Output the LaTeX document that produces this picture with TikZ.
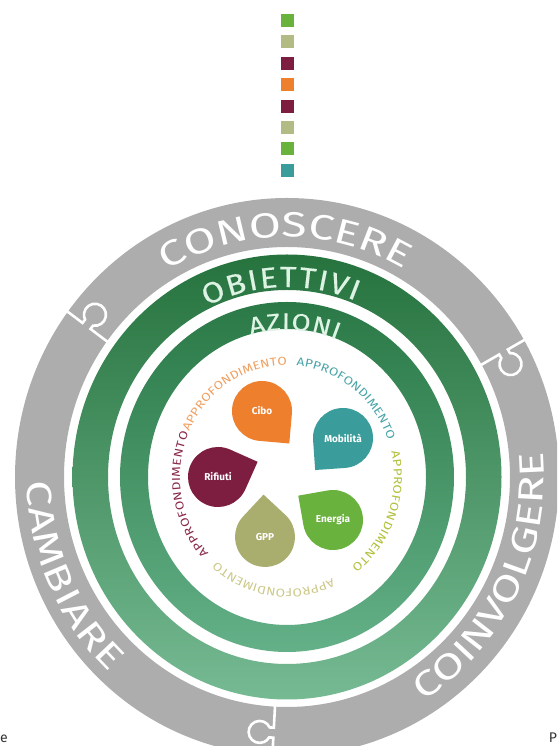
\documentclass[tikz,border=0pt]{standalone}
\usepackage{fontspec}
\setmainfont{Fira Sans}
\newfontfamily\ringfont[FakeStretch=1.32]{Fira Sans}
\newfontfamily\bandfont[FakeStretch=1.12,FakeBold=0.3]{Fira Sans}
\newfontfamily\azionifont[FakeStretch=1.15,FakeBold=0.3]{Fira Sans}
\newfontfamily\approfont[FakeStretch=1.18]{Fira Sans}
\usetikzlibrary{decorations.text}
\definecolor{ringgray}{HTML}{ADADAD}
\definecolor{gonetop}{HTML}{26733E}
\definecolor{gonebot}{HTML}{76BA93}
\definecolor{gtwotop}{HTML}{2A7946}
\definecolor{gtwobot}{HTML}{64B088}
\definecolor{mint}{HTML}{DDF3E3}
\definecolor{cibo}{HTML}{EE7F2D}
\definecolor{mobilita}{HTML}{3A9C9B}
\definecolor{energia}{HTML}{6AB23E}
\definecolor{gpp}{HTML}{A9AE6E}
\definecolor{gppsq}{HTML}{B3BB85}
\definecolor{rifiuti}{HTML}{7D1D3F}
\definecolor{apcibo}{HTML}{F0A060}
\definecolor{apmob}{HTML}{4AA5A8}
\definecolor{apen}{HTML}{B2C03A}
\definecolor{apgpp}{HTML}{CCC98A}
\definecolor{aprif}{HTML}{8A2A4A}
\begin{document}
\begin{tikzpicture}[x=1pt,y=1pt,
	dropname/.style={text=white,font=\fontsize{10}{12}\selectfont\bfseries},
	puzzle/.style={draw=white,line width=2.6pt},
	square/.style={minimum size=13pt,inner sep=0pt}]
	\useasboundingbox (0,0) rectangle (557,746);
	\clip (0,0) rectangle (557,746);
	\coordinate (c) at (287,269);
	\fill[ringgray,even odd rule] (c) ellipse[x radius=272pt,y radius=279pt] (c) ellipse[x radius=223pt,y radius=230pt];
	\foreach \a/\m in {143/251,30/250,267/256} {
		\begin{scope}[shift={(287,269)},rotate=\a]
			\draw[puzzle] (\m-45,0) -- (\m-5,0) -- (\m-5,-4.2) arc[start angle=117.04,end angle=422.96,radius=11pt] -- (\m+5,0) -- (\m+45,0);
		\end{scope}
	}
	\fill[white] (c) ellipse[x radius=220pt,y radius=228pt];
	\shade[even odd rule,top color=gonetop,bottom color=gonebot] (c) ellipse[x radius=214.5pt,y radius=222.5pt] (c) ellipse[x radius=179pt,y radius=187pt];
	\shade[even odd rule,top color=gtwotop,bottom color=gtwobot] (c) ellipse[x radius=167pt,y radius=175pt] (c) ellipse[x radius=139pt,y radius=148pt];
	\path[decorate,decoration={text along path,text align={fit to path},text={|\ringfont\fontsize{35}{35}\selectfont\color{white}|CONOSCERE}}] (c) ++(121:233pt and 240pt) arc[start angle=121,end angle=62,x radius=233pt,y radius=240pt];
	\path[decorate,decoration={text along path,text align={fit to path},text={|\ringfont\fontsize{35}{35}\selectfont\color{white}|CAMBIARE}}] (c) ++(181:260pt and 267pt) arc[start angle=181,end angle=227,x radius=260pt,y radius=267pt];
	\path[decorate,decoration={text along path,text align={fit to path},text={|\ringfont\fontsize{35}{35}\selectfont\color{white}|COINVOLGERE}}] (c) ++(-58:257pt and 264pt) arc[start angle=-58,end angle=4.5,x radius=257pt,y radius=264pt];
	\path[decorate,decoration={text along path,text align={fit to path},text={|\bandfont\fontsize{29}{29}\selectfont\color{mint}|OBIETTIVI}}] (c) ++(116:183pt and 190pt) arc[start angle=116,end angle=68,x radius=183pt,y radius=190pt];
	\path[decorate,decoration={text along path,text align={fit to path},text={|\azionifont\fontsize{24}{24}\selectfont\color{mint}|AZIONI}}] (c) ++(105:140pt and 147pt) arc[start angle=105,end angle=69,x radius=140pt,y radius=147pt];
	\foreach \m/\col in {123/apcibo,52/apmob,-20/apen,-98/apgpp,190/aprif} {
		\path[decorate,decoration={text along path,text align={fit to path},text={|\approfont\fontsize{11.5}{11.5}\selectfont\color{\col}|APPROFONDIMENTO}}] (c) ++({\m+33}:107pt and 112pt) arc[start angle={\m+33},end angle={\m-33},x radius=107pt,y radius=112pt];
	}
	\foreach \x/\y/\a/\col/\lbl in {262/335/-50/cibo/Cibo,343/308/-131/mobilita/Mobilità,333/226/145/energia/Energia,265/209/92/gpp/GPP,218/269/21/rifiuti/Rifiuti} {
		\fill[\col,rotate around={45+\a:(\x,\y)}] (\x+30,\y-30) -- (\x,\y-30) arc[start angle=-90,end angle=-360,radius=30pt] -- cycle;
		\draw (\x,\y) node (\col) [dropname] {\lbl};
	}
	\foreach \col [count=\i] in {energia,gppsq,rifiuti,cibo,rifiuti,gppsq,energia,mobilita} {
		\draw (287,{725.5-21.4*(\i-1)}) node (sq\i) [square,fill=\col] {};
	}
	\draw (4,7) node (cutleft) [text=black!80,font=\fontsize{14}{14}\selectfont] {e};
	\draw (553,8) node (cutright) [text=black!80,font=\fontsize{14}{14}\selectfont] {P};
\end{tikzpicture}
\end{document}
